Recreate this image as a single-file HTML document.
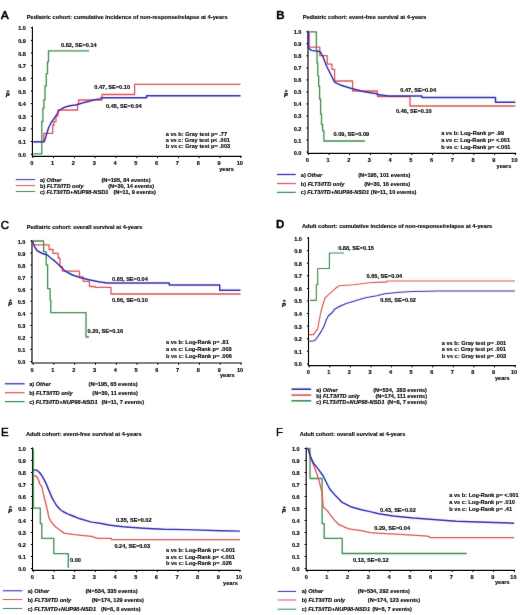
<!DOCTYPE html>
<html><head><meta charset="utf-8"><style>
html,body{margin:0;padding:0;background:#fff;}
svg{display:block;font-family:"Liberation Sans",sans-serif;}
text{white-space:pre;stroke:#000;stroke-width:0.14;}
</style></head><body>
<svg width="520" height="615" viewBox="0 0 520 615">
<defs><filter id="t" x="0" y="0" width="520" height="615" filterUnits="userSpaceOnUse"><feConvolveMatrix order="3" kernelMatrix="0 1 0 1 16 1 0 1 0" divisor="20" edgeMode="none"/></filter><filter id="b" x="0" y="0" width="520" height="615" filterUnits="userSpaceOnUse"><feConvolveMatrix order="3" kernelMatrix="1 2 1 2 32 2 1 2 1" divisor="44" edgeMode="none"/></filter></defs>
<rect width="520" height="615" fill="#fff"/>
<line x1="32.40" y1="26.7" x2="32.40" y2="156.3" stroke="#0a0a0a" stroke-width="1.15"/>
<line x1="31.8" y1="156.30" x2="241.6" y2="156.30" stroke="#0a0a0a" stroke-width="1.15"/>
<line x1="30.8" y1="154.2" x2="32.4" y2="154.2" stroke="#0a0a0a" stroke-width="1"/>
<line x1="32.8" y1="156.3" x2="32.8" y2="158.1" stroke="#0a0a0a" stroke-width="1"/>
<line x1="30.8" y1="141.5" x2="32.4" y2="141.5" stroke="#0a0a0a" stroke-width="1"/>
<line x1="53.6" y1="156.3" x2="53.6" y2="158.1" stroke="#0a0a0a" stroke-width="1"/>
<line x1="30.8" y1="128.9" x2="32.4" y2="128.9" stroke="#0a0a0a" stroke-width="1"/>
<line x1="74.4" y1="156.3" x2="74.4" y2="158.1" stroke="#0a0a0a" stroke-width="1"/>
<line x1="30.8" y1="116.2" x2="32.4" y2="116.2" stroke="#0a0a0a" stroke-width="1"/>
<line x1="95.2" y1="156.3" x2="95.2" y2="158.1" stroke="#0a0a0a" stroke-width="1"/>
<line x1="30.8" y1="103.6" x2="32.4" y2="103.6" stroke="#0a0a0a" stroke-width="1"/>
<line x1="116.0" y1="156.3" x2="116.0" y2="158.1" stroke="#0a0a0a" stroke-width="1"/>
<line x1="30.8" y1="91.0" x2="32.4" y2="91.0" stroke="#0a0a0a" stroke-width="1"/>
<line x1="136.8" y1="156.3" x2="136.8" y2="158.1" stroke="#0a0a0a" stroke-width="1"/>
<line x1="30.8" y1="78.3" x2="32.4" y2="78.3" stroke="#0a0a0a" stroke-width="1"/>
<line x1="157.6" y1="156.3" x2="157.6" y2="158.1" stroke="#0a0a0a" stroke-width="1"/>
<line x1="30.8" y1="65.7" x2="32.4" y2="65.7" stroke="#0a0a0a" stroke-width="1"/>
<line x1="178.4" y1="156.3" x2="178.4" y2="158.1" stroke="#0a0a0a" stroke-width="1"/>
<line x1="30.8" y1="53.0" x2="32.4" y2="53.0" stroke="#0a0a0a" stroke-width="1"/>
<line x1="199.2" y1="156.3" x2="199.2" y2="158.1" stroke="#0a0a0a" stroke-width="1"/>
<line x1="30.8" y1="40.4" x2="32.4" y2="40.4" stroke="#0a0a0a" stroke-width="1"/>
<line x1="220.0" y1="156.3" x2="220.0" y2="158.1" stroke="#0a0a0a" stroke-width="1"/>
<line x1="30.8" y1="27.7" x2="32.4" y2="27.7" stroke="#0a0a0a" stroke-width="1"/>
<line x1="240.8" y1="156.3" x2="240.8" y2="158.1" stroke="#0a0a0a" stroke-width="1"/>
<line x1="308.00" y1="30.8" x2="308.00" y2="153.3" stroke="#0a0a0a" stroke-width="1.15"/>
<line x1="307.4" y1="153.30" x2="516.2" y2="153.30" stroke="#0a0a0a" stroke-width="1.15"/>
<line x1="306.4" y1="152.0" x2="308.0" y2="152.0" stroke="#0a0a0a" stroke-width="1"/>
<line x1="308.3" y1="153.3" x2="308.3" y2="155.1" stroke="#0a0a0a" stroke-width="1"/>
<line x1="306.4" y1="140.0" x2="308.0" y2="140.0" stroke="#0a0a0a" stroke-width="1"/>
<line x1="329.0" y1="153.3" x2="329.0" y2="155.1" stroke="#0a0a0a" stroke-width="1"/>
<line x1="306.4" y1="128.0" x2="308.0" y2="128.0" stroke="#0a0a0a" stroke-width="1"/>
<line x1="349.7" y1="153.3" x2="349.7" y2="155.1" stroke="#0a0a0a" stroke-width="1"/>
<line x1="306.4" y1="115.9" x2="308.0" y2="115.9" stroke="#0a0a0a" stroke-width="1"/>
<line x1="370.4" y1="153.3" x2="370.4" y2="155.1" stroke="#0a0a0a" stroke-width="1"/>
<line x1="306.4" y1="103.9" x2="308.0" y2="103.9" stroke="#0a0a0a" stroke-width="1"/>
<line x1="391.1" y1="153.3" x2="391.1" y2="155.1" stroke="#0a0a0a" stroke-width="1"/>
<line x1="306.4" y1="91.9" x2="308.0" y2="91.9" stroke="#0a0a0a" stroke-width="1"/>
<line x1="411.9" y1="153.3" x2="411.9" y2="155.1" stroke="#0a0a0a" stroke-width="1"/>
<line x1="306.4" y1="79.9" x2="308.0" y2="79.9" stroke="#0a0a0a" stroke-width="1"/>
<line x1="432.6" y1="153.3" x2="432.6" y2="155.1" stroke="#0a0a0a" stroke-width="1"/>
<line x1="306.4" y1="67.9" x2="308.0" y2="67.9" stroke="#0a0a0a" stroke-width="1"/>
<line x1="453.3" y1="153.3" x2="453.3" y2="155.1" stroke="#0a0a0a" stroke-width="1"/>
<line x1="306.4" y1="55.8" x2="308.0" y2="55.8" stroke="#0a0a0a" stroke-width="1"/>
<line x1="474.0" y1="153.3" x2="474.0" y2="155.1" stroke="#0a0a0a" stroke-width="1"/>
<line x1="306.4" y1="43.8" x2="308.0" y2="43.8" stroke="#0a0a0a" stroke-width="1"/>
<line x1="494.7" y1="153.3" x2="494.7" y2="155.1" stroke="#0a0a0a" stroke-width="1"/>
<line x1="306.4" y1="31.8" x2="308.0" y2="31.8" stroke="#0a0a0a" stroke-width="1"/>
<line x1="515.4" y1="153.3" x2="515.4" y2="155.1" stroke="#0a0a0a" stroke-width="1"/>
<line x1="32.00" y1="240.0" x2="32.00" y2="363.0" stroke="#0a0a0a" stroke-width="1.15"/>
<line x1="31.4" y1="363.00" x2="241.8" y2="363.00" stroke="#0a0a0a" stroke-width="1.15"/>
<line x1="30.4" y1="361.5" x2="32.0" y2="361.5" stroke="#0a0a0a" stroke-width="1"/>
<line x1="33.1" y1="363.0" x2="33.1" y2="364.8" stroke="#0a0a0a" stroke-width="1"/>
<line x1="30.4" y1="349.4" x2="32.0" y2="349.4" stroke="#0a0a0a" stroke-width="1"/>
<line x1="53.9" y1="363.0" x2="53.9" y2="364.8" stroke="#0a0a0a" stroke-width="1"/>
<line x1="30.4" y1="337.4" x2="32.0" y2="337.4" stroke="#0a0a0a" stroke-width="1"/>
<line x1="74.7" y1="363.0" x2="74.7" y2="364.8" stroke="#0a0a0a" stroke-width="1"/>
<line x1="30.4" y1="325.4" x2="32.0" y2="325.4" stroke="#0a0a0a" stroke-width="1"/>
<line x1="95.5" y1="363.0" x2="95.5" y2="364.8" stroke="#0a0a0a" stroke-width="1"/>
<line x1="30.4" y1="313.3" x2="32.0" y2="313.3" stroke="#0a0a0a" stroke-width="1"/>
<line x1="116.3" y1="363.0" x2="116.3" y2="364.8" stroke="#0a0a0a" stroke-width="1"/>
<line x1="30.4" y1="301.2" x2="32.0" y2="301.2" stroke="#0a0a0a" stroke-width="1"/>
<line x1="137.1" y1="363.0" x2="137.1" y2="364.8" stroke="#0a0a0a" stroke-width="1"/>
<line x1="30.4" y1="289.2" x2="32.0" y2="289.2" stroke="#0a0a0a" stroke-width="1"/>
<line x1="157.8" y1="363.0" x2="157.8" y2="364.8" stroke="#0a0a0a" stroke-width="1"/>
<line x1="30.4" y1="277.1" x2="32.0" y2="277.1" stroke="#0a0a0a" stroke-width="1"/>
<line x1="178.6" y1="363.0" x2="178.6" y2="364.8" stroke="#0a0a0a" stroke-width="1"/>
<line x1="30.4" y1="265.1" x2="32.0" y2="265.1" stroke="#0a0a0a" stroke-width="1"/>
<line x1="199.4" y1="363.0" x2="199.4" y2="364.8" stroke="#0a0a0a" stroke-width="1"/>
<line x1="30.4" y1="253.1" x2="32.0" y2="253.1" stroke="#0a0a0a" stroke-width="1"/>
<line x1="220.2" y1="363.0" x2="220.2" y2="364.8" stroke="#0a0a0a" stroke-width="1"/>
<line x1="30.4" y1="241.0" x2="32.0" y2="241.0" stroke="#0a0a0a" stroke-width="1"/>
<line x1="241.0" y1="363.0" x2="241.0" y2="364.8" stroke="#0a0a0a" stroke-width="1"/>
<line x1="308.50" y1="237.1" x2="308.50" y2="365.6" stroke="#0a0a0a" stroke-width="1.15"/>
<line x1="307.9" y1="365.60" x2="515.9" y2="365.60" stroke="#0a0a0a" stroke-width="1.15"/>
<line x1="306.9" y1="363.8" x2="308.5" y2="363.8" stroke="#0a0a0a" stroke-width="1"/>
<line x1="309.2" y1="365.6" x2="309.2" y2="367.4" stroke="#0a0a0a" stroke-width="1"/>
<line x1="306.9" y1="351.2" x2="308.5" y2="351.2" stroke="#0a0a0a" stroke-width="1"/>
<line x1="329.8" y1="365.6" x2="329.8" y2="367.4" stroke="#0a0a0a" stroke-width="1"/>
<line x1="306.9" y1="338.7" x2="308.5" y2="338.7" stroke="#0a0a0a" stroke-width="1"/>
<line x1="350.4" y1="365.6" x2="350.4" y2="367.4" stroke="#0a0a0a" stroke-width="1"/>
<line x1="306.9" y1="326.1" x2="308.5" y2="326.1" stroke="#0a0a0a" stroke-width="1"/>
<line x1="371.0" y1="365.6" x2="371.0" y2="367.4" stroke="#0a0a0a" stroke-width="1"/>
<line x1="306.9" y1="313.5" x2="308.5" y2="313.5" stroke="#0a0a0a" stroke-width="1"/>
<line x1="391.6" y1="365.6" x2="391.6" y2="367.4" stroke="#0a0a0a" stroke-width="1"/>
<line x1="306.9" y1="300.9" x2="308.5" y2="300.9" stroke="#0a0a0a" stroke-width="1"/>
<line x1="412.1" y1="365.6" x2="412.1" y2="367.4" stroke="#0a0a0a" stroke-width="1"/>
<line x1="306.9" y1="288.4" x2="308.5" y2="288.4" stroke="#0a0a0a" stroke-width="1"/>
<line x1="432.7" y1="365.6" x2="432.7" y2="367.4" stroke="#0a0a0a" stroke-width="1"/>
<line x1="306.9" y1="275.8" x2="308.5" y2="275.8" stroke="#0a0a0a" stroke-width="1"/>
<line x1="453.3" y1="365.6" x2="453.3" y2="367.4" stroke="#0a0a0a" stroke-width="1"/>
<line x1="306.9" y1="263.2" x2="308.5" y2="263.2" stroke="#0a0a0a" stroke-width="1"/>
<line x1="473.9" y1="365.6" x2="473.9" y2="367.4" stroke="#0a0a0a" stroke-width="1"/>
<line x1="306.9" y1="250.7" x2="308.5" y2="250.7" stroke="#0a0a0a" stroke-width="1"/>
<line x1="494.5" y1="365.6" x2="494.5" y2="367.4" stroke="#0a0a0a" stroke-width="1"/>
<line x1="306.9" y1="238.1" x2="308.5" y2="238.1" stroke="#0a0a0a" stroke-width="1"/>
<line x1="515.1" y1="365.6" x2="515.1" y2="367.4" stroke="#0a0a0a" stroke-width="1"/>
<line x1="32.50" y1="447.5" x2="32.50" y2="570.3" stroke="#0a0a0a" stroke-width="1.15"/>
<line x1="31.9" y1="570.30" x2="240.7" y2="570.30" stroke="#0a0a0a" stroke-width="1.15"/>
<line x1="30.9" y1="568.5" x2="32.5" y2="568.5" stroke="#0a0a0a" stroke-width="1"/>
<line x1="33.4" y1="570.3" x2="33.4" y2="572.1" stroke="#0a0a0a" stroke-width="1"/>
<line x1="30.9" y1="556.5" x2="32.5" y2="556.5" stroke="#0a0a0a" stroke-width="1"/>
<line x1="54.0" y1="570.3" x2="54.0" y2="572.1" stroke="#0a0a0a" stroke-width="1"/>
<line x1="30.9" y1="544.5" x2="32.5" y2="544.5" stroke="#0a0a0a" stroke-width="1"/>
<line x1="74.7" y1="570.3" x2="74.7" y2="572.1" stroke="#0a0a0a" stroke-width="1"/>
<line x1="30.9" y1="532.5" x2="32.5" y2="532.5" stroke="#0a0a0a" stroke-width="1"/>
<line x1="95.3" y1="570.3" x2="95.3" y2="572.1" stroke="#0a0a0a" stroke-width="1"/>
<line x1="30.9" y1="520.5" x2="32.5" y2="520.5" stroke="#0a0a0a" stroke-width="1"/>
<line x1="116.0" y1="570.3" x2="116.0" y2="572.1" stroke="#0a0a0a" stroke-width="1"/>
<line x1="30.9" y1="508.5" x2="32.5" y2="508.5" stroke="#0a0a0a" stroke-width="1"/>
<line x1="136.7" y1="570.3" x2="136.7" y2="572.1" stroke="#0a0a0a" stroke-width="1"/>
<line x1="30.9" y1="496.5" x2="32.5" y2="496.5" stroke="#0a0a0a" stroke-width="1"/>
<line x1="157.3" y1="570.3" x2="157.3" y2="572.1" stroke="#0a0a0a" stroke-width="1"/>
<line x1="30.9" y1="484.5" x2="32.5" y2="484.5" stroke="#0a0a0a" stroke-width="1"/>
<line x1="178.0" y1="570.3" x2="178.0" y2="572.1" stroke="#0a0a0a" stroke-width="1"/>
<line x1="30.9" y1="472.5" x2="32.5" y2="472.5" stroke="#0a0a0a" stroke-width="1"/>
<line x1="198.6" y1="570.3" x2="198.6" y2="572.1" stroke="#0a0a0a" stroke-width="1"/>
<line x1="30.9" y1="460.5" x2="32.5" y2="460.5" stroke="#0a0a0a" stroke-width="1"/>
<line x1="219.2" y1="570.3" x2="219.2" y2="572.1" stroke="#0a0a0a" stroke-width="1"/>
<line x1="30.9" y1="448.5" x2="32.5" y2="448.5" stroke="#0a0a0a" stroke-width="1"/>
<line x1="239.9" y1="570.3" x2="239.9" y2="572.1" stroke="#0a0a0a" stroke-width="1"/>
<line x1="306.20" y1="447.5" x2="306.20" y2="570.3" stroke="#0a0a0a" stroke-width="1.15"/>
<line x1="305.6" y1="570.30" x2="515.2" y2="570.30" stroke="#0a0a0a" stroke-width="1.15"/>
<line x1="304.6" y1="568.5" x2="306.2" y2="568.5" stroke="#0a0a0a" stroke-width="1"/>
<line x1="307.2" y1="570.3" x2="307.2" y2="572.1" stroke="#0a0a0a" stroke-width="1"/>
<line x1="304.6" y1="556.5" x2="306.2" y2="556.5" stroke="#0a0a0a" stroke-width="1"/>
<line x1="327.9" y1="570.3" x2="327.9" y2="572.1" stroke="#0a0a0a" stroke-width="1"/>
<line x1="304.6" y1="544.5" x2="306.2" y2="544.5" stroke="#0a0a0a" stroke-width="1"/>
<line x1="348.6" y1="570.3" x2="348.6" y2="572.1" stroke="#0a0a0a" stroke-width="1"/>
<line x1="304.6" y1="532.5" x2="306.2" y2="532.5" stroke="#0a0a0a" stroke-width="1"/>
<line x1="369.4" y1="570.3" x2="369.4" y2="572.1" stroke="#0a0a0a" stroke-width="1"/>
<line x1="304.6" y1="520.5" x2="306.2" y2="520.5" stroke="#0a0a0a" stroke-width="1"/>
<line x1="390.1" y1="570.3" x2="390.1" y2="572.1" stroke="#0a0a0a" stroke-width="1"/>
<line x1="304.6" y1="508.5" x2="306.2" y2="508.5" stroke="#0a0a0a" stroke-width="1"/>
<line x1="410.8" y1="570.3" x2="410.8" y2="572.1" stroke="#0a0a0a" stroke-width="1"/>
<line x1="304.6" y1="496.5" x2="306.2" y2="496.5" stroke="#0a0a0a" stroke-width="1"/>
<line x1="431.5" y1="570.3" x2="431.5" y2="572.1" stroke="#0a0a0a" stroke-width="1"/>
<line x1="304.6" y1="484.5" x2="306.2" y2="484.5" stroke="#0a0a0a" stroke-width="1"/>
<line x1="452.2" y1="570.3" x2="452.2" y2="572.1" stroke="#0a0a0a" stroke-width="1"/>
<line x1="304.6" y1="472.5" x2="306.2" y2="472.5" stroke="#0a0a0a" stroke-width="1"/>
<line x1="473.0" y1="570.3" x2="473.0" y2="572.1" stroke="#0a0a0a" stroke-width="1"/>
<line x1="304.6" y1="460.5" x2="306.2" y2="460.5" stroke="#0a0a0a" stroke-width="1"/>
<line x1="493.7" y1="570.3" x2="493.7" y2="572.1" stroke="#0a0a0a" stroke-width="1"/>
<line x1="304.6" y1="448.5" x2="306.2" y2="448.5" stroke="#0a0a0a" stroke-width="1"/>
<line x1="514.4" y1="570.3" x2="514.4" y2="572.1" stroke="#0a0a0a" stroke-width="1"/>
<g filter="url(#b)">
<polygon points="6.7,91.7 8.0,90.1 9.3,91.7" fill="#111" stroke="#111" stroke-width="0.4"/>
<polyline points="32.8,153.8 41.8,153.8 41.8,121.5 42.9,121.5 42.9,108.2 43.9,108.2 43.9,100.0 45.0,100.0 45.0,86.0 46.3,86.0 46.3,73.6 47.5,73.6 47.5,62.0 48.5,62.0 48.5,50.8 89.2,50.8" fill="none" stroke="#3a8c4e" stroke-width="1.3" stroke-linejoin="round"/>
<polyline points="32.8,141.6 43.8,141.6 43.8,133.3 52.7,133.3 52.7,125.0 54.0,125.0 54.0,121.7 56.0,121.7 56.0,116.0 58.0,116.0 58.0,110.0 77.6,110.0 77.6,104.4 78.5,104.4 78.5,100.0 102.1,100.0 102.1,94.5 134.6,94.5 134.6,84.4 240.5,84.4 240.5,84.4" fill="none" stroke="#dc5252" stroke-width="1.3" stroke-linejoin="round"/>
<polyline points="32.8,141.8 44.2,141.8 46.0,136.0 48.5,128.0 51.0,123.0 54.8,117.5 59.0,110.5 62.0,108.5 64.6,107.3 70.0,105.8 75.4,105.0 78.5,104.2 83.0,102.7 89.2,101.2 94.6,99.6 100.0,99.0 101.3,97.7 146.5,97.7 146.5,95.8 240.5,95.8" fill="none" stroke="#2c2cb0" stroke-width="1.45" stroke-linejoin="round"/>
<line x1="15.8" y1="179.6" x2="35.1" y2="179.6" stroke="#2c2cb0" stroke-width="1.0"/>
<line x1="15.8" y1="185.6" x2="35.1" y2="185.6" stroke="#dc5252" stroke-width="1.0"/>
<line x1="15.8" y1="191.5" x2="35.1" y2="191.5" stroke="#3a8c4e" stroke-width="1.0"/>
<polygon points="284.9,91.4 286.2,89.8 287.5,91.4" fill="#111" stroke="#111" stroke-width="0.4"/>
<polyline points="308.3,31.8 316.4,31.8 316.4,50.4 317.0,50.4 317.0,63.0 317.8,63.0 317.8,75.8 318.7,75.8 318.7,86.4 319.6,86.4 319.6,99.0 320.6,99.0 320.6,113.9 321.5,113.9 321.5,124.5 322.6,124.5 322.6,130.8 323.9,130.8 323.9,141.0 364.9,141.0 364.9,141.0" fill="none" stroke="#3a8c4e" stroke-width="1.3" stroke-linejoin="round"/>
<polyline points="308.3,31.8 309.2,31.8 309.2,47.2 319.8,47.2 319.8,55.7 327.2,55.7 327.2,64.2 332.0,64.2 332.0,69.4 334.6,69.4 334.6,81.0 352.6,81.0 352.6,91.0 377.5,91.0 377.5,96.5 410.0,96.5 410.0,106.0 515.4,106.0 515.4,106.0" fill="none" stroke="#dc5252" stroke-width="1.3" stroke-linejoin="round"/>
<polyline points="308.3,31.8 308.4,47.9 311.3,50.4 319.8,51.5 323.0,56.7 326.2,65.2 330.4,73.7 334.6,82.1 341.0,85.3 351.6,88.5 364.3,91.7 377.0,93.8 377.2,94.5 388.7,96.0 421.9,96.0 421.9,97.4 495.5,97.4 495.5,102.3 515.4,102.3" fill="none" stroke="#2c2cb0" stroke-width="1.45" stroke-linejoin="round"/>
<line x1="276.9" y1="174.5" x2="295.8" y2="174.5" stroke="#2c2cb0" stroke-width="1.25"/>
<line x1="276.9" y1="183.5" x2="295.8" y2="183.5" stroke="#dc5252" stroke-width="1.25"/>
<line x1="276.9" y1="192.4" x2="295.8" y2="192.4" stroke="#3a8c4e" stroke-width="1.25"/>
<polygon points="9.2,300.9 10.5,299.3 11.8,300.9" fill="#111" stroke="#111" stroke-width="0.4"/>
<polyline points="33.1,241.0 43.6,241.0 43.6,251.7 46.2,251.7 46.2,264.9 47.6,264.9 47.6,288.7 50.1,288.7 50.1,299.8 50.8,299.8 50.8,312.6 86.0,312.6 86.0,337.0 88.9,337.0 88.9,337.0" fill="none" stroke="#3a8c4e" stroke-width="1.3" stroke-linejoin="round"/>
<polyline points="33.1,241.0 33.3,241.0 33.3,244.9 49.1,244.9 49.1,249.5 53.0,249.5 53.0,253.4 58.2,253.4 58.2,258.0 59.9,258.0 59.9,266.6 62.4,266.6 62.4,271.2 79.5,271.2 79.5,276.8 83.2,276.8 83.2,281.4 89.4,281.4 89.4,286.5 95.0,286.5 95.0,287.3 111.0,287.3 111.0,294.0 240.5,294.0 240.5,294.0" fill="none" stroke="#dc5252" stroke-width="1.3" stroke-linejoin="round"/>
<polyline points="33.1,241.0 33.2,243.5 35.0,247.5 37.5,251.0 42.5,253.5 47.5,255.0 50.0,257.5 55.0,261.2 60.0,266.0 65.0,271.0 72.5,275.0 80.0,277.5 90.0,280.0 100.0,282.0 107.5,283.0 169.2,283.0 169.2,285.0 219.7,285.0 219.7,290.2 240.5,290.2" fill="none" stroke="#2c2cb0" stroke-width="1.45" stroke-linejoin="round"/>
<line x1="4.9" y1="383.8" x2="24.6" y2="383.8" stroke="#2c2cb0" stroke-width="1.25"/>
<line x1="4.9" y1="392.7" x2="24.6" y2="392.7" stroke="#dc5252" stroke-width="1.25"/>
<line x1="4.9" y1="401.6" x2="24.6" y2="401.6" stroke="#3a8c4e" stroke-width="1.25"/>
<polygon points="283.0,301.2 284.3,299.6 285.6,301.2" fill="#111" stroke="#111" stroke-width="0.4"/>
<polyline points="309.9,300.3 316.3,300.3 316.3,284.7 317.7,284.7 317.7,268.5 329.4,268.5 329.4,253.0 344.0,253.0" fill="none" stroke="#3a8c4e" stroke-width="1.15" stroke-linejoin="round"/>
<polyline points="309.2,334.6 313.6,334.6 315.5,331.5 317.7,329.0 319.3,320.0 320.9,312.0 323.4,303.0 325.0,298.0 328.3,294.9 332.0,291.6 334.5,289.3 336.5,287.5 339.2,285.7 353.8,284.7 369.5,282.7 380.0,282.1 386.7,282.1 387.0,281.0 515.0,281.0" fill="none" stroke="#dc5252" stroke-width="1.15" stroke-linejoin="round"/>
<polyline points="309.2,341.0 311.5,341.2 313.5,340.8 315.3,340.0 317.5,337.0 320.1,333.1 322.3,329.5 324.2,325.8 326.2,320.1 328.3,316.0 332.0,312.8 334.6,309.2 338.5,306.9 346.2,303.5 353.8,301.2 365.4,297.7 376.9,295.8 384.6,293.8 400.0,292.3 412.3,291.5 439.2,291.0 515.0,291.0" fill="none" stroke="#2c2cb0" stroke-width="1.15" stroke-linejoin="round"/>
<line x1="291.5" y1="389.2" x2="311.2" y2="389.2" stroke="#2c2cb0" stroke-width="1.6"/>
<line x1="291.5" y1="395.1" x2="311.2" y2="395.1" stroke="#dc5252" stroke-width="1.6"/>
<line x1="291.5" y1="400.8" x2="311.2" y2="400.8" stroke="#3a8c4e" stroke-width="1.6"/>
<polygon points="9.2,507.4 10.5,505.8 11.8,507.4" fill="#111" stroke="#111" stroke-width="0.4"/>
<polyline points="33.4,448.5 33.4,508.1 40.3,508.1 40.3,523.6 41.8,523.6 41.8,538.4 53.8,538.4 53.8,553.6 68.3,553.6 68.3,568.0" fill="none" stroke="#3a8c4e" stroke-width="1.3" stroke-linejoin="round"/>
<polyline points="33.4,475.7 36.7,476.4 38.6,480.3 39.9,484.2 41.9,486.8 43.2,493.2 45.1,501.0 47.1,508.8 49.0,517.9 51.0,521.5 53.4,524.5 56.0,527.3 59.7,530.0 64.0,533.1 74.6,534.6 91.5,536.3 97.8,538.3 111.5,538.3 111.5,539.7 240.0,539.7" fill="none" stroke="#dc5252" stroke-width="1.3" stroke-linejoin="round"/>
<polyline points="33.4,469.6 37.3,470.5 39.5,472.5 41.9,475.7 45.8,482.9 49.0,490.6 52.3,498.4 56.2,505.0 60.1,509.5 63.0,511.5 67.5,513.8 73.0,516.0 80.0,518.8 91.5,522.1 100.0,523.2 108.7,525.0 123.0,526.7 143.3,528.2 163.5,529.3 186.5,529.6 221.1,530.8 240.0,531.1" fill="none" stroke="#2c2cb0" stroke-width="1.45" stroke-linejoin="round"/>
<line x1="2.8" y1="590.8" x2="22.3" y2="590.8" stroke="#2c2cb0" stroke-width="1.05"/>
<line x1="2.8" y1="599.5" x2="22.3" y2="599.5" stroke="#dc5252" stroke-width="1.05"/>
<line x1="2.8" y1="608.5" x2="22.3" y2="608.5" stroke="#3a8c4e" stroke-width="1.05"/>
<polygon points="283.0,507.9 284.3,506.3 285.6,507.9" fill="#111" stroke="#111" stroke-width="0.4"/>
<polyline points="307.2,448.5 310.0,448.5 310.0,478.5 322.1,478.5 322.1,523.6 324.2,523.6 324.2,538.4 342.2,538.4 342.2,553.5 466.7,553.5" fill="none" stroke="#3a8c4e" stroke-width="1.3" stroke-linejoin="round"/>
<polyline points="307.2,448.5 308.3,449.5 311.5,460.1 315.8,470.7 318.9,480.2 322.1,492.9 323.2,506.7 327.4,510.9 333.7,519.4 339.0,524.7 348.6,528.9 361.3,530.6 370.0,532.7 381.5,533.3 404.6,534.7 427.7,536.1 430.6,537.6 514.2,537.6" fill="none" stroke="#dc5252" stroke-width="1.3" stroke-linejoin="round"/>
<polyline points="307.2,448.5 308.3,449.5 310.5,456.9 313.6,463.3 317.9,468.6 323.2,476.0 329.5,488.7 335.9,496.1 342.2,502.4 350.7,506.7 361.3,509.8 370.0,511.6 378.7,513.7 393.1,516.0 413.3,518.0 436.3,519.7 456.5,521.2 485.4,522.3 514.2,523.2" fill="none" stroke="#2c2cb0" stroke-width="1.45" stroke-linejoin="round"/>
<line x1="277.7" y1="591.4" x2="296.2" y2="591.4" stroke="#2c2cb0" stroke-width="1.05"/>
<line x1="277.7" y1="600.0" x2="296.2" y2="600.0" stroke="#dc5252" stroke-width="1.05"/>
<line x1="277.7" y1="609.2" x2="296.2" y2="609.2" stroke="#3a8c4e" stroke-width="1.05"/>
</g>
<g filter="url(#t)">
<text x="1.0" y="18.8" font-size="11.5" font-weight="normal" font-style="normal" text-anchor="start" fill="#000" style="stroke:#000;stroke-width:0.65">A</text>
<text x="26.8" y="18.8" font-size="5.7" font-weight="bold" font-style="normal" text-anchor="start" fill="#000" textLength="200.8" lengthAdjust="spacingAndGlyphs">Pediatric cohort: cumulative incidence of non-response/relapse at 4-years</text>
<text x="26.0" y="156.7" font-size="5.62" font-weight="bold" font-style="normal" text-anchor="end" fill="#000" >0.0</text>
<text x="31.8" y="164.6" font-size="5.62" font-weight="bold" font-style="normal" text-anchor="middle" fill="#000" >0</text>
<text x="26.0" y="144.0" font-size="5.62" font-weight="bold" font-style="normal" text-anchor="end" fill="#000" >0.1</text>
<text x="52.6" y="164.6" font-size="5.62" font-weight="bold" font-style="normal" text-anchor="middle" fill="#000" >1</text>
<text x="26.0" y="131.4" font-size="5.62" font-weight="bold" font-style="normal" text-anchor="end" fill="#000" >0.2</text>
<text x="73.4" y="164.6" font-size="5.62" font-weight="bold" font-style="normal" text-anchor="middle" fill="#000" >2</text>
<text x="26.0" y="118.8" font-size="5.62" font-weight="bold" font-style="normal" text-anchor="end" fill="#000" >0.3</text>
<text x="94.2" y="164.6" font-size="5.62" font-weight="bold" font-style="normal" text-anchor="middle" fill="#000" >3</text>
<text x="26.0" y="106.1" font-size="5.62" font-weight="bold" font-style="normal" text-anchor="end" fill="#000" >0.4</text>
<text x="115.0" y="164.6" font-size="5.62" font-weight="bold" font-style="normal" text-anchor="middle" fill="#000" >4</text>
<text x="26.0" y="93.5" font-size="5.62" font-weight="bold" font-style="normal" text-anchor="end" fill="#000" >0.5</text>
<text x="135.8" y="164.6" font-size="5.62" font-weight="bold" font-style="normal" text-anchor="middle" fill="#000" >5</text>
<text x="26.0" y="80.8" font-size="5.62" font-weight="bold" font-style="normal" text-anchor="end" fill="#000" >0.6</text>
<text x="156.6" y="164.6" font-size="5.62" font-weight="bold" font-style="normal" text-anchor="middle" fill="#000" >6</text>
<text x="26.0" y="68.2" font-size="5.62" font-weight="bold" font-style="normal" text-anchor="end" fill="#000" >0.7</text>
<text x="177.4" y="164.6" font-size="5.62" font-weight="bold" font-style="normal" text-anchor="middle" fill="#000" >7</text>
<text x="26.0" y="55.5" font-size="5.62" font-weight="bold" font-style="normal" text-anchor="end" fill="#000" >0.8</text>
<text x="198.2" y="164.6" font-size="5.62" font-weight="bold" font-style="normal" text-anchor="middle" fill="#000" >8</text>
<text x="26.0" y="42.9" font-size="5.62" font-weight="bold" font-style="normal" text-anchor="end" fill="#000" >0.9</text>
<text x="219.0" y="164.6" font-size="5.62" font-weight="bold" font-style="normal" text-anchor="middle" fill="#000" >9</text>
<text x="26.0" y="30.2" font-size="5.62" font-weight="bold" font-style="normal" text-anchor="end" fill="#000" >1.0</text>
<text x="239.8" y="164.6" font-size="5.62" font-weight="bold" font-style="normal" text-anchor="middle" fill="#000" >10</text>
<text x="219.2" y="170.5" font-size="5.62" font-weight="bold" font-style="normal" text-anchor="start" fill="#000" >years</text>
<text x="5.7" y="97.1" font-size="5.6" font-weight="bold" font-style="italic" text-anchor="start" fill="#000" style="stroke-width:0.35">P</text>
<text x="61.0" y="46.5" font-size="5.62" font-weight="bold" font-style="normal" text-anchor="start" fill="#000" >0.82, SE=0.14</text>
<text x="94.3" y="89.0" font-size="5.62" font-weight="bold" font-style="normal" text-anchor="start" fill="#000" >0.47, SE=0.10</text>
<text x="106.0" y="107.5" font-size="5.62" font-weight="bold" font-style="normal" text-anchor="start" fill="#000" >0.45, SE=0.04</text>
<text x="165.8" y="135.5" font-size="5.62" font-weight="bold" font-style="normal" text-anchor="start" fill="#000" >a vs b: Gray test p= .77</text>
<text x="165.8" y="141.8" font-size="5.62" font-weight="bold" font-style="normal" text-anchor="start" fill="#000" >a vs c: Gray test p&lt; .001</text>
<text x="165.8" y="148.3" font-size="5.62" font-weight="bold" font-style="normal" text-anchor="start" fill="#000" >b vs c: Gray test p= .003</text>
<text x="40.0" y="182.4" font-size="5.62" font-weight="bold" fill="#000">a) <tspan font-style="italic">Other</tspan></text>
<text x="40.0" y="188.1" font-size="5.62" font-weight="bold" fill="#000">b) <tspan font-style="italic">FLT3/ITD only</tspan></text>
<text x="40.0" y="193.9" font-size="5.62" font-weight="bold" fill="#000">c) <tspan font-style="italic">FLT3/ITD+NUP98-NSD1</tspan></text>
<text x="101.5" y="182.4" font-size="5.62" font-weight="bold" font-style="normal" text-anchor="start" fill="#000" >(N=195, 84 events)</text>
<text x="108.2" y="188.1" font-size="5.62" font-weight="bold" font-style="normal" text-anchor="start" fill="#000" >(N=30, 14 events)</text>
<text x="113.4" y="193.9" font-size="5.62" font-weight="bold" font-style="normal" text-anchor="start" fill="#000" >(N=11, 9 events)</text>
<text x="276.3" y="18.9" font-size="11.5" font-weight="bold" font-style="normal" text-anchor="start" fill="#000" style="stroke:#000;stroke-width:0.3">B</text>
<text x="302.7" y="19.4" font-size="5.7" font-weight="bold" font-style="normal" text-anchor="start" fill="#000" textLength="123.8" lengthAdjust="spacingAndGlyphs">Pediatric cohort: event-free survival at 4-years</text>
<text x="301.5" y="154.5" font-size="5.62" font-weight="bold" font-style="normal" text-anchor="end" fill="#000" >0.0</text>
<text x="307.3" y="162.2" font-size="5.62" font-weight="bold" font-style="normal" text-anchor="middle" fill="#000" >0</text>
<text x="301.5" y="142.5" font-size="5.62" font-weight="bold" font-style="normal" text-anchor="end" fill="#000" >0.1</text>
<text x="328.0" y="162.2" font-size="5.62" font-weight="bold" font-style="normal" text-anchor="middle" fill="#000" >1</text>
<text x="301.5" y="130.5" font-size="5.62" font-weight="bold" font-style="normal" text-anchor="end" fill="#000" >0.2</text>
<text x="348.7" y="162.2" font-size="5.62" font-weight="bold" font-style="normal" text-anchor="middle" fill="#000" >2</text>
<text x="301.5" y="118.4" font-size="5.62" font-weight="bold" font-style="normal" text-anchor="end" fill="#000" >0.3</text>
<text x="369.4" y="162.2" font-size="5.62" font-weight="bold" font-style="normal" text-anchor="middle" fill="#000" >3</text>
<text x="301.5" y="106.4" font-size="5.62" font-weight="bold" font-style="normal" text-anchor="end" fill="#000" >0.4</text>
<text x="390.1" y="162.2" font-size="5.62" font-weight="bold" font-style="normal" text-anchor="middle" fill="#000" >4</text>
<text x="301.5" y="94.4" font-size="5.62" font-weight="bold" font-style="normal" text-anchor="end" fill="#000" >0.5</text>
<text x="410.9" y="162.2" font-size="5.62" font-weight="bold" font-style="normal" text-anchor="middle" fill="#000" >5</text>
<text x="301.5" y="82.4" font-size="5.62" font-weight="bold" font-style="normal" text-anchor="end" fill="#000" >0.6</text>
<text x="431.6" y="162.2" font-size="5.62" font-weight="bold" font-style="normal" text-anchor="middle" fill="#000" >6</text>
<text x="301.5" y="70.4" font-size="5.62" font-weight="bold" font-style="normal" text-anchor="end" fill="#000" >0.7</text>
<text x="452.3" y="162.2" font-size="5.62" font-weight="bold" font-style="normal" text-anchor="middle" fill="#000" >7</text>
<text x="301.5" y="58.3" font-size="5.62" font-weight="bold" font-style="normal" text-anchor="end" fill="#000" >0.8</text>
<text x="473.0" y="162.2" font-size="5.62" font-weight="bold" font-style="normal" text-anchor="middle" fill="#000" >8</text>
<text x="301.5" y="46.3" font-size="5.62" font-weight="bold" font-style="normal" text-anchor="end" fill="#000" >0.9</text>
<text x="493.7" y="162.2" font-size="5.62" font-weight="bold" font-style="normal" text-anchor="middle" fill="#000" >9</text>
<text x="301.5" y="34.3" font-size="5.62" font-weight="bold" font-style="normal" text-anchor="end" fill="#000" >1.0</text>
<text x="514.4" y="162.2" font-size="5.62" font-weight="bold" font-style="normal" text-anchor="middle" fill="#000" >10</text>
<text x="496.6" y="167.8" font-size="5.62" font-weight="bold" font-style="normal" text-anchor="start" fill="#000" >years</text>
<text x="283.9" y="96.8" font-size="5.6" font-weight="bold" font-style="italic" text-anchor="start" fill="#000" style="stroke-width:0.35">P</text>
<text x="400.3" y="91.6" font-size="5.62" font-weight="bold" font-style="normal" text-anchor="start" fill="#000" >0.47, SE=0.04</text>
<text x="396.0" y="113.2" font-size="5.62" font-weight="bold" font-style="normal" text-anchor="start" fill="#000" >0.46, SE=0.10</text>
<text x="333.5" y="135.8" font-size="5.62" font-weight="bold" font-style="normal" text-anchor="start" fill="#000" >0.09, SE=0.09</text>
<text x="441.2" y="135.4" font-size="5.62" font-weight="bold" font-style="normal" text-anchor="start" fill="#000" >a vs b: Log-Rank p= .99</text>
<text x="441.2" y="142.0" font-size="5.62" font-weight="bold" font-style="normal" text-anchor="start" fill="#000" >a vs c: Log-Rank p= &lt;.001</text>
<text x="441.2" y="148.9" font-size="5.62" font-weight="bold" font-style="normal" text-anchor="start" fill="#000" >b vs c: Log-Rank p= &lt;.001</text>
<text x="300.8" y="177.0" font-size="5.62" font-weight="bold" fill="#000">a) <tspan font-style="italic">Other</tspan></text>
<text x="300.8" y="185.5" font-size="5.62" font-weight="bold" fill="#000">b) <tspan font-style="italic">FLT3/ITD only</tspan></text>
<text x="300.8" y="194.4" font-size="5.62" font-weight="bold" fill="#000">c) <tspan font-style="italic">FLT3/ITD+NUP98-NSD1</tspan></text>
<text x="358.2" y="177.0" font-size="5.62" font-weight="bold" font-style="normal" text-anchor="start" fill="#000" >(N=195, 101 events)</text>
<text x="364.2" y="185.5" font-size="5.62" font-weight="bold" font-style="normal" text-anchor="start" fill="#000" >(N=30, 16 events)</text>
<text x="370.8" y="194.4" font-size="5.62" font-weight="bold" font-style="normal" text-anchor="start" fill="#000" >(N=11, 10 events)</text>
<text x="0.8" y="228.5" font-size="11.5" font-weight="normal" font-style="normal" text-anchor="start" fill="#000" style="stroke:#000;stroke-width:0.5">C</text>
<text x="26.7" y="228.6" font-size="5.7" font-weight="bold" font-style="normal" text-anchor="start" fill="#000" textLength="115.8" lengthAdjust="spacingAndGlyphs">Pediatric cohort: overall survival at 4-years</text>
<text x="25.5" y="364.0" font-size="5.62" font-weight="bold" font-style="normal" text-anchor="end" fill="#000" >0.0</text>
<text x="32.1" y="372.0" font-size="5.62" font-weight="bold" font-style="normal" text-anchor="middle" fill="#000" >0</text>
<text x="25.5" y="351.9" font-size="5.62" font-weight="bold" font-style="normal" text-anchor="end" fill="#000" >0.1</text>
<text x="52.9" y="372.0" font-size="5.62" font-weight="bold" font-style="normal" text-anchor="middle" fill="#000" >1</text>
<text x="25.5" y="339.9" font-size="5.62" font-weight="bold" font-style="normal" text-anchor="end" fill="#000" >0.2</text>
<text x="73.7" y="372.0" font-size="5.62" font-weight="bold" font-style="normal" text-anchor="middle" fill="#000" >2</text>
<text x="25.5" y="327.9" font-size="5.62" font-weight="bold" font-style="normal" text-anchor="end" fill="#000" >0.3</text>
<text x="94.5" y="372.0" font-size="5.62" font-weight="bold" font-style="normal" text-anchor="middle" fill="#000" >3</text>
<text x="25.5" y="315.8" font-size="5.62" font-weight="bold" font-style="normal" text-anchor="end" fill="#000" >0.4</text>
<text x="115.3" y="372.0" font-size="5.62" font-weight="bold" font-style="normal" text-anchor="middle" fill="#000" >4</text>
<text x="25.5" y="303.8" font-size="5.62" font-weight="bold" font-style="normal" text-anchor="end" fill="#000" >0.5</text>
<text x="136.1" y="372.0" font-size="5.62" font-weight="bold" font-style="normal" text-anchor="middle" fill="#000" >5</text>
<text x="25.5" y="291.7" font-size="5.62" font-weight="bold" font-style="normal" text-anchor="end" fill="#000" >0.6</text>
<text x="156.8" y="372.0" font-size="5.62" font-weight="bold" font-style="normal" text-anchor="middle" fill="#000" >6</text>
<text x="25.5" y="279.6" font-size="5.62" font-weight="bold" font-style="normal" text-anchor="end" fill="#000" >0.7</text>
<text x="177.6" y="372.0" font-size="5.62" font-weight="bold" font-style="normal" text-anchor="middle" fill="#000" >7</text>
<text x="25.5" y="267.6" font-size="5.62" font-weight="bold" font-style="normal" text-anchor="end" fill="#000" >0.8</text>
<text x="198.4" y="372.0" font-size="5.62" font-weight="bold" font-style="normal" text-anchor="middle" fill="#000" >8</text>
<text x="25.5" y="255.6" font-size="5.62" font-weight="bold" font-style="normal" text-anchor="end" fill="#000" >0.9</text>
<text x="219.2" y="372.0" font-size="5.62" font-weight="bold" font-style="normal" text-anchor="middle" fill="#000" >9</text>
<text x="25.5" y="243.5" font-size="5.62" font-weight="bold" font-style="normal" text-anchor="end" fill="#000" >1.0</text>
<text x="240.0" y="372.0" font-size="5.62" font-weight="bold" font-style="normal" text-anchor="middle" fill="#000" >10</text>
<text x="220.0" y="377.0" font-size="5.62" font-weight="bold" font-style="normal" text-anchor="start" fill="#000" >years</text>
<text x="8.2" y="306.3" font-size="5.6" font-weight="bold" font-style="italic" text-anchor="start" fill="#000" style="stroke-width:0.35">P</text>
<text x="112.1" y="280.7" font-size="5.62" font-weight="bold" font-style="normal" text-anchor="start" fill="#000" >0.65, SE=0.04</text>
<text x="112.1" y="301.7" font-size="5.62" font-weight="bold" font-style="normal" text-anchor="start" fill="#000" >0.56, SE=0.10</text>
<text x="87.5" y="333.0" font-size="5.62" font-weight="bold" font-style="normal" text-anchor="start" fill="#000" >0.20, SE=0.16</text>
<text x="166.0" y="344.3" font-size="5.62" font-weight="bold" font-style="normal" text-anchor="start" fill="#000" >a vs b: Log-Rank p= .81</text>
<text x="166.0" y="351.3" font-size="5.62" font-weight="bold" font-style="normal" text-anchor="start" fill="#000" >a vs c: Log-Rank p= .003</text>
<text x="166.0" y="358.3" font-size="5.62" font-weight="bold" font-style="normal" text-anchor="start" fill="#000" >b vs c: Log-Rank p= .006</text>
<text x="29.2" y="386.2" font-size="5.62" font-weight="bold" fill="#000">a) <tspan font-style="italic">Other</tspan></text>
<text x="29.2" y="395.0" font-size="5.62" font-weight="bold" fill="#000">b) <tspan font-style="italic">FLT3/ITD only</tspan></text>
<text x="29.2" y="403.9" font-size="5.62" font-weight="bold" fill="#000">c) <tspan font-style="italic">FLT3/ITD+NUP98-NSD1</tspan></text>
<text x="88.6" y="386.2" font-size="5.62" font-weight="bold" font-style="normal" text-anchor="start" fill="#000" >(N=195, 65 events)</text>
<text x="92.3" y="395.0" font-size="5.62" font-weight="bold" font-style="normal" text-anchor="start" fill="#000" >(N=30, 11 events)</text>
<text x="101.5" y="403.9" font-size="5.62" font-weight="bold" font-style="normal" text-anchor="start" fill="#000" >(N=11, 7 events)</text>
<text x="276.1" y="228.3" font-size="11.5" font-weight="bold" font-style="normal" text-anchor="start" fill="#000" style="stroke:#000;stroke-width:0.3">D</text>
<text x="301.9" y="227.7" font-size="5.7" font-weight="bold" font-style="normal" text-anchor="start" fill="#000" textLength="190.4" lengthAdjust="spacingAndGlyphs">Adult cohort: cumulative incidence of non-response/relapse at 4-years</text>
<text x="302.0" y="366.3" font-size="5.62" font-weight="bold" font-style="normal" text-anchor="end" fill="#000" >0.0</text>
<text x="308.2" y="374.2" font-size="5.62" font-weight="bold" font-style="normal" text-anchor="middle" fill="#000" >0</text>
<text x="302.0" y="353.7" font-size="5.62" font-weight="bold" font-style="normal" text-anchor="end" fill="#000" >0.1</text>
<text x="328.8" y="374.2" font-size="5.62" font-weight="bold" font-style="normal" text-anchor="middle" fill="#000" >1</text>
<text x="302.0" y="341.2" font-size="5.62" font-weight="bold" font-style="normal" text-anchor="end" fill="#000" >0.2</text>
<text x="349.4" y="374.2" font-size="5.62" font-weight="bold" font-style="normal" text-anchor="middle" fill="#000" >2</text>
<text x="302.0" y="328.6" font-size="5.62" font-weight="bold" font-style="normal" text-anchor="end" fill="#000" >0.3</text>
<text x="370.0" y="374.2" font-size="5.62" font-weight="bold" font-style="normal" text-anchor="middle" fill="#000" >3</text>
<text x="302.0" y="316.0" font-size="5.62" font-weight="bold" font-style="normal" text-anchor="end" fill="#000" >0.4</text>
<text x="390.6" y="374.2" font-size="5.62" font-weight="bold" font-style="normal" text-anchor="middle" fill="#000" >4</text>
<text x="302.0" y="303.4" font-size="5.62" font-weight="bold" font-style="normal" text-anchor="end" fill="#000" >0.5</text>
<text x="411.1" y="374.2" font-size="5.62" font-weight="bold" font-style="normal" text-anchor="middle" fill="#000" >5</text>
<text x="302.0" y="290.9" font-size="5.62" font-weight="bold" font-style="normal" text-anchor="end" fill="#000" >0.6</text>
<text x="431.7" y="374.2" font-size="5.62" font-weight="bold" font-style="normal" text-anchor="middle" fill="#000" >6</text>
<text x="302.0" y="278.3" font-size="5.62" font-weight="bold" font-style="normal" text-anchor="end" fill="#000" >0.7</text>
<text x="452.3" y="374.2" font-size="5.62" font-weight="bold" font-style="normal" text-anchor="middle" fill="#000" >7</text>
<text x="302.0" y="265.7" font-size="5.62" font-weight="bold" font-style="normal" text-anchor="end" fill="#000" >0.8</text>
<text x="472.9" y="374.2" font-size="5.62" font-weight="bold" font-style="normal" text-anchor="middle" fill="#000" >8</text>
<text x="302.0" y="253.2" font-size="5.62" font-weight="bold" font-style="normal" text-anchor="end" fill="#000" >0.9</text>
<text x="493.5" y="374.2" font-size="5.62" font-weight="bold" font-style="normal" text-anchor="middle" fill="#000" >9</text>
<text x="302.0" y="240.6" font-size="5.62" font-weight="bold" font-style="normal" text-anchor="end" fill="#000" >1.0</text>
<text x="514.1" y="374.2" font-size="5.62" font-weight="bold" font-style="normal" text-anchor="middle" fill="#000" >10</text>
<text x="494.9" y="380.4" font-size="5.62" font-weight="bold" font-style="normal" text-anchor="start" fill="#000" >years</text>
<text x="282.0" y="306.6" font-size="5.6" font-weight="bold" font-style="italic" text-anchor="start" fill="#000" style="stroke-width:0.35">P</text>
<text x="338.2" y="249.9" font-size="5.62" font-weight="bold" font-style="normal" text-anchor="start" fill="#000" >0.88, SE=0.15</text>
<text x="366.5" y="277.9" font-size="5.62" font-weight="bold" font-style="normal" text-anchor="start" fill="#000" >0.65, SE=0.04</text>
<text x="380.2" y="301.6" font-size="5.62" font-weight="bold" font-style="normal" text-anchor="start" fill="#000" >0.55, SE=0.02</text>
<text x="441.8" y="344.5" font-size="5.62" font-weight="bold" font-style="normal" text-anchor="start" fill="#000" >a vs b: Gray test p= .001</text>
<text x="441.8" y="351.3" font-size="5.62" font-weight="bold" font-style="normal" text-anchor="start" fill="#000" >a vs c: Gray test p&lt; .001</text>
<text x="441.8" y="357.9" font-size="5.62" font-weight="bold" font-style="normal" text-anchor="start" fill="#000" >b vs c: Gray test p= .003</text>
<text x="316.2" y="391.5" font-size="5.62" font-weight="bold" fill="#000">a) <tspan font-style="italic">Other</tspan></text>
<text x="316.2" y="397.7" font-size="5.62" font-weight="bold" fill="#000">b) <tspan font-style="italic">FLT3/ITD only</tspan></text>
<text x="316.2" y="403.5" font-size="5.62" font-weight="bold" fill="#000">c) <tspan font-style="italic">FLT3/ITD+NUP98-NSD1</tspan></text>
<text x="427.0" y="391.5" font-size="5.62" font-weight="bold" font-style="normal" text-anchor="end" fill="#000" >(N=534,  283 events)</text>
<text x="427.0" y="397.7" font-size="5.62" font-weight="bold" font-style="normal" text-anchor="end" fill="#000" >(N=174, 111 events)</text>
<text x="427.0" y="403.5" font-size="5.62" font-weight="bold" font-style="normal" text-anchor="end" fill="#000" >(N=8, 7 events)</text>
<text x="1.0" y="435.8" font-size="11.5" font-weight="normal" font-style="normal" text-anchor="start" fill="#000" style="stroke:#000;stroke-width:0.5">E</text>
<text x="25.9" y="435.9" font-size="5.7" font-weight="bold" font-style="normal" text-anchor="start" fill="#000" textLength="115.8" lengthAdjust="spacingAndGlyphs">Adult cohort: event-free survival at 4-years</text>
<text x="26.0" y="571.0" font-size="5.62" font-weight="bold" font-style="normal" text-anchor="end" fill="#000" >0.0</text>
<text x="32.4" y="579.2" font-size="5.62" font-weight="bold" font-style="normal" text-anchor="middle" fill="#000" >0</text>
<text x="26.0" y="559.0" font-size="5.62" font-weight="bold" font-style="normal" text-anchor="end" fill="#000" >0.1</text>
<text x="53.0" y="579.2" font-size="5.62" font-weight="bold" font-style="normal" text-anchor="middle" fill="#000" >1</text>
<text x="26.0" y="547.0" font-size="5.62" font-weight="bold" font-style="normal" text-anchor="end" fill="#000" >0.2</text>
<text x="73.7" y="579.2" font-size="5.62" font-weight="bold" font-style="normal" text-anchor="middle" fill="#000" >2</text>
<text x="26.0" y="535.0" font-size="5.62" font-weight="bold" font-style="normal" text-anchor="end" fill="#000" >0.3</text>
<text x="94.3" y="579.2" font-size="5.62" font-weight="bold" font-style="normal" text-anchor="middle" fill="#000" >3</text>
<text x="26.0" y="523.0" font-size="5.62" font-weight="bold" font-style="normal" text-anchor="end" fill="#000" >0.4</text>
<text x="115.0" y="579.2" font-size="5.62" font-weight="bold" font-style="normal" text-anchor="middle" fill="#000" >4</text>
<text x="26.0" y="511.0" font-size="5.62" font-weight="bold" font-style="normal" text-anchor="end" fill="#000" >0.5</text>
<text x="135.7" y="579.2" font-size="5.62" font-weight="bold" font-style="normal" text-anchor="middle" fill="#000" >5</text>
<text x="26.0" y="499.0" font-size="5.62" font-weight="bold" font-style="normal" text-anchor="end" fill="#000" >0.6</text>
<text x="156.3" y="579.2" font-size="5.62" font-weight="bold" font-style="normal" text-anchor="middle" fill="#000" >6</text>
<text x="26.0" y="487.0" font-size="5.62" font-weight="bold" font-style="normal" text-anchor="end" fill="#000" >0.7</text>
<text x="177.0" y="579.2" font-size="5.62" font-weight="bold" font-style="normal" text-anchor="middle" fill="#000" >7</text>
<text x="26.0" y="475.0" font-size="5.62" font-weight="bold" font-style="normal" text-anchor="end" fill="#000" >0.8</text>
<text x="197.6" y="579.2" font-size="5.62" font-weight="bold" font-style="normal" text-anchor="middle" fill="#000" >8</text>
<text x="26.0" y="463.0" font-size="5.62" font-weight="bold" font-style="normal" text-anchor="end" fill="#000" >0.9</text>
<text x="218.2" y="579.2" font-size="5.62" font-weight="bold" font-style="normal" text-anchor="middle" fill="#000" >9</text>
<text x="26.0" y="451.0" font-size="5.62" font-weight="bold" font-style="normal" text-anchor="end" fill="#000" >1.0</text>
<text x="238.9" y="579.2" font-size="5.62" font-weight="bold" font-style="normal" text-anchor="middle" fill="#000" >10</text>
<text x="223.1" y="584.9" font-size="5.62" font-weight="bold" font-style="normal" text-anchor="start" fill="#000" >years</text>
<text x="8.2" y="512.8" font-size="5.6" font-weight="bold" font-style="italic" text-anchor="start" fill="#000" style="stroke-width:0.35">P</text>
<text x="115.9" y="522.1" font-size="5.62" font-weight="bold" font-style="normal" text-anchor="start" fill="#000" >0.35, SE=0.02</text>
<text x="114.4" y="548.3" font-size="5.62" font-weight="bold" font-style="normal" text-anchor="start" fill="#000" >0.24, SE=0.03</text>
<text x="70.0" y="562.3" font-size="5.62" font-weight="bold" font-style="normal" text-anchor="start" fill="#000" >0.00</text>
<text x="166.0" y="551.9" font-size="5.62" font-weight="bold" font-style="normal" text-anchor="start" fill="#000" >a vs b: Log-Rank p= &lt;.001</text>
<text x="166.0" y="558.8" font-size="5.62" font-weight="bold" font-style="normal" text-anchor="start" fill="#000" >a vs c: Log-Rank p= &lt;.001</text>
<text x="166.0" y="565.4" font-size="5.62" font-weight="bold" font-style="normal" text-anchor="start" fill="#000" >b vs c: Log-Rank p= .026</text>
<text x="27.7" y="593.0" font-size="5.62" font-weight="bold" fill="#000">a) <tspan font-style="italic">Other</tspan></text>
<text x="27.7" y="601.8" font-size="5.62" font-weight="bold" fill="#000">b) <tspan font-style="italic">FLT3/ITD only</tspan></text>
<text x="27.7" y="610.5" font-size="5.62" font-weight="bold" fill="#000">c) <tspan font-style="italic">FLT3/ITD+NUP98-NSD1</tspan></text>
<text x="85.5" y="593.0" font-size="5.62" font-weight="bold" font-style="normal" text-anchor="start" fill="#000" >(N=534, 335 events)</text>
<text x="91.7" y="601.8" font-size="5.62" font-weight="bold" font-style="normal" text-anchor="start" fill="#000" >(N=174, 129 events)</text>
<text x="100.9" y="610.5" font-size="5.62" font-weight="bold" font-style="normal" text-anchor="start" fill="#000" >(N=8, 8 events)</text>
<text x="275.9" y="435.6" font-size="11.5" font-weight="normal" font-style="normal" text-anchor="start" fill="#000" style="stroke:#000;stroke-width:0.25">F</text>
<text x="299.8" y="435.9" font-size="5.7" font-weight="bold" font-style="normal" text-anchor="start" fill="#000" textLength="105.6" lengthAdjust="spacingAndGlyphs">Adult cohort: overall survival at 4-years</text>
<text x="299.7" y="571.0" font-size="5.62" font-weight="bold" font-style="normal" text-anchor="end" fill="#000" >0.0</text>
<text x="306.2" y="578.9" font-size="5.62" font-weight="bold" font-style="normal" text-anchor="middle" fill="#000" >0</text>
<text x="299.7" y="559.0" font-size="5.62" font-weight="bold" font-style="normal" text-anchor="end" fill="#000" >0.1</text>
<text x="326.9" y="578.9" font-size="5.62" font-weight="bold" font-style="normal" text-anchor="middle" fill="#000" >1</text>
<text x="299.7" y="547.0" font-size="5.62" font-weight="bold" font-style="normal" text-anchor="end" fill="#000" >0.2</text>
<text x="347.6" y="578.9" font-size="5.62" font-weight="bold" font-style="normal" text-anchor="middle" fill="#000" >2</text>
<text x="299.7" y="535.0" font-size="5.62" font-weight="bold" font-style="normal" text-anchor="end" fill="#000" >0.3</text>
<text x="368.4" y="578.9" font-size="5.62" font-weight="bold" font-style="normal" text-anchor="middle" fill="#000" >3</text>
<text x="299.7" y="523.0" font-size="5.62" font-weight="bold" font-style="normal" text-anchor="end" fill="#000" >0.4</text>
<text x="389.1" y="578.9" font-size="5.62" font-weight="bold" font-style="normal" text-anchor="middle" fill="#000" >4</text>
<text x="299.7" y="511.0" font-size="5.62" font-weight="bold" font-style="normal" text-anchor="end" fill="#000" >0.5</text>
<text x="409.8" y="578.9" font-size="5.62" font-weight="bold" font-style="normal" text-anchor="middle" fill="#000" >5</text>
<text x="299.7" y="499.0" font-size="5.62" font-weight="bold" font-style="normal" text-anchor="end" fill="#000" >0.6</text>
<text x="430.5" y="578.9" font-size="5.62" font-weight="bold" font-style="normal" text-anchor="middle" fill="#000" >6</text>
<text x="299.7" y="487.0" font-size="5.62" font-weight="bold" font-style="normal" text-anchor="end" fill="#000" >0.7</text>
<text x="451.2" y="578.9" font-size="5.62" font-weight="bold" font-style="normal" text-anchor="middle" fill="#000" >7</text>
<text x="299.7" y="475.0" font-size="5.62" font-weight="bold" font-style="normal" text-anchor="end" fill="#000" >0.8</text>
<text x="472.0" y="578.9" font-size="5.62" font-weight="bold" font-style="normal" text-anchor="middle" fill="#000" >8</text>
<text x="299.7" y="463.0" font-size="5.62" font-weight="bold" font-style="normal" text-anchor="end" fill="#000" >0.9</text>
<text x="492.7" y="578.9" font-size="5.62" font-weight="bold" font-style="normal" text-anchor="middle" fill="#000" >9</text>
<text x="299.7" y="451.0" font-size="5.62" font-weight="bold" font-style="normal" text-anchor="end" fill="#000" >1.0</text>
<text x="513.4" y="578.9" font-size="5.62" font-weight="bold" font-style="normal" text-anchor="middle" fill="#000" >10</text>
<text x="494.9" y="584.4" font-size="5.62" font-weight="bold" font-style="normal" text-anchor="start" fill="#000" >years</text>
<text x="282.0" y="513.3" font-size="5.6" font-weight="bold" font-style="italic" text-anchor="start" fill="#000" style="stroke-width:0.35">P</text>
<text x="380.1" y="511.6" font-size="5.62" font-weight="bold" font-style="normal" text-anchor="start" fill="#000" >0.43, SE=0.02</text>
<text x="374.3" y="529.5" font-size="5.62" font-weight="bold" font-style="normal" text-anchor="start" fill="#000" >0.29, SE=0.04</text>
<text x="353.0" y="562.0" font-size="5.62" font-weight="bold" font-style="normal" text-anchor="start" fill="#000" >0.13, SE=0.12</text>
<text x="449.3" y="497.2" font-size="5.62" font-weight="bold" font-style="normal" text-anchor="start" fill="#000" >a vs b: Log-Rank p= &lt;.001</text>
<text x="449.3" y="504.1" font-size="5.62" font-weight="bold" font-style="normal" text-anchor="start" fill="#000" >a vs c: Log-Rank p= .010</text>
<text x="449.3" y="510.7" font-size="5.62" font-weight="bold" font-style="normal" text-anchor="start" fill="#000" >b vs c: Log-Rank p= .41</text>
<text x="301.7" y="593.4" font-size="5.62" font-weight="bold" fill="#000">a) <tspan font-style="italic">Other</tspan></text>
<text x="301.7" y="602.0" font-size="5.62" font-weight="bold" fill="#000">b) <tspan font-style="italic">FLT3/ITD only</tspan></text>
<text x="301.7" y="611.2" font-size="5.62" font-weight="bold" fill="#000">c) <tspan font-style="italic">FLT3/ITD+NUP98-NSD1</tspan></text>
<text x="357.7" y="593.4" font-size="5.62" font-weight="bold" font-style="normal" text-anchor="start" fill="#000" >(N=534, 292 events)</text>
<text x="367.8" y="602.0" font-size="5.62" font-weight="bold" font-style="normal" text-anchor="start" fill="#000" >(N=174, 123 events)</text>
<text x="372.2" y="611.2" font-size="5.62" font-weight="bold" font-style="normal" text-anchor="start" fill="#000" >(N=8, 7 events)</text>
</g>
</svg></body></html>
